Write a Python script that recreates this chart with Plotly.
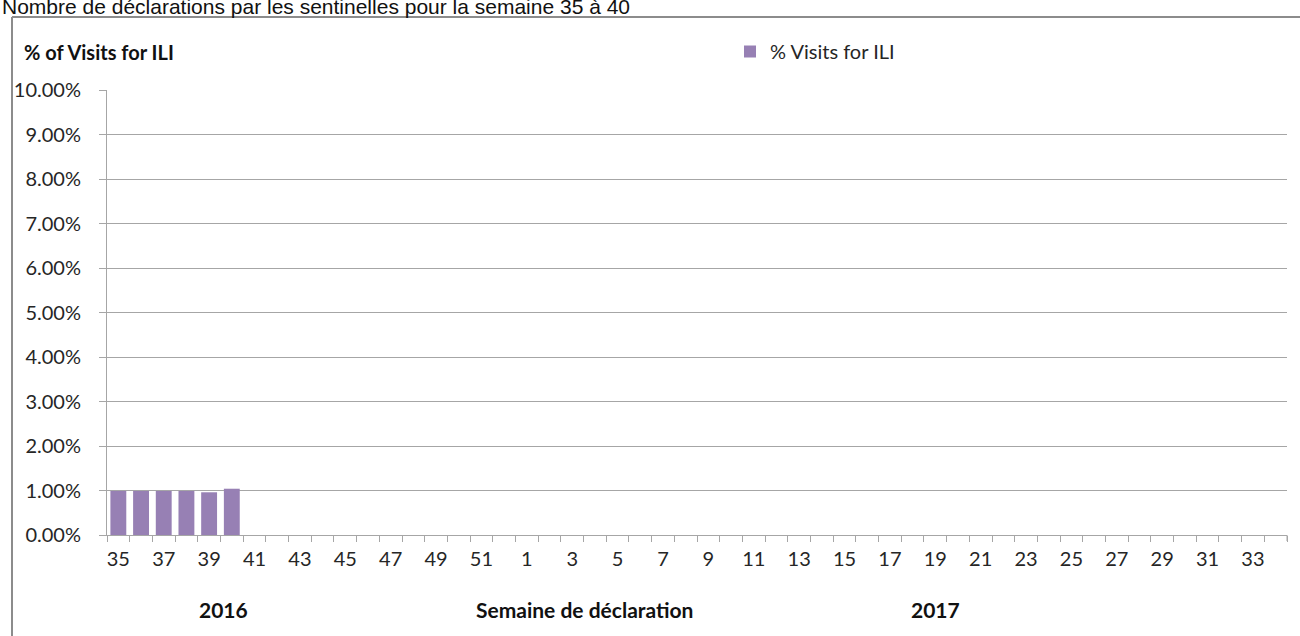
import plotly.graph_objects as go

weeks_2016 = [str(w) for w in range(35, 53)]
weeks_2017 = [str(w) for w in range(1, 35)]
categories = weeks_2016 + weeks_2017
ili_values = [0.0099, 0.0099, 0.0099, 0.0099, 0.0096, 0.0104]
series_name = "% Visits for ILI"
tick_labels = [c if i % 2 == 0 else "" for i, c in enumerate(categories)]
y_ticks = [i / 100 for i in range(0, 11)]

W, H = 1300, 636
L, R, T, B = 107, 13, 90, 101
pw, ph = W - L - R, H - T - B

def px_x(p):
    return (p - L) / pw

def px_y(p):
    return (H - B - p) / ph

bar_color = "#9780B4"
grid_color = "#A6A6A6"
text_color = "#262626"
font_fam = "Lato, 'Open Sans', sans-serif"

fig = go.Figure()
fig.add_trace(go.Bar(
    x=categories[:len(ili_values)],
    y=ili_values,
    name=series_name,
    marker=dict(color=bar_color, line=dict(width=0)),
    showlegend=True,
))

fig.update_layout(
    width=W, height=H,
    margin=dict(l=L, r=R, t=T, b=B, autoexpand=False),
    plot_bgcolor="white",
    paper_bgcolor="white",
    bargap=0.3,
    font=dict(family=font_fam, size=20, color=text_color),
    showlegend=True,
    legend=dict(
        x=px_x(730), y=px_y(32), xanchor="left", yanchor="top",
        font=dict(family=font_fam, size=20, color=text_color),
        bgcolor="rgba(0,0,0,0)",
    ),
    xaxis=dict(
        type="category",
        categoryorder="array",
        categoryarray=categories,
        range=[-0.5, len(categories) - 0.5],
        tickmode="array",
        tickvals=categories,
        ticktext=tick_labels,
        tickson="boundaries",
        tickangle=0,
        ticks="outside",
        ticklen=6,
        tickcolor=grid_color,
        showgrid=False,
        showline=True,
        linecolor=grid_color,
        linewidth=1,
        automargin=False,
        tickfont=dict(family=font_fam, size=20, color=text_color),
        ticklabelstandoff=6,
    ),
    yaxis=dict(
        range=[0, 0.10],
        tickmode="array",
        tickvals=y_ticks,
        tickformat=".2%",
        ticks="outside",
        ticklen=7,
        tickcolor=grid_color,
        showgrid=True,
        gridcolor=grid_color,
        gridwidth=1,
        showline=True,
        linecolor=grid_color,
        linewidth=1,
        zeroline=False,
        automargin=False,
        ticklabelstandoff=14,
        tickfont=dict(family=font_fam, size=20, color=text_color),
    ),
)

# final boundary tick at right end of category axis
fig.add_shape(type="line", xref="x domain", yref="paper",
              x0=1, x1=1, y0=0, y1=-6 / ph,
              line=dict(color=grid_color, width=1))

# outer chart frame (left and top edges)
fig.add_shape(type="line", xref="paper", yref="paper",
              x0=px_x(12), x1=px_x(12), y0=px_y(17), y1=px_y(640),
              line=dict(color="#8C8C8C", width=2))
fig.add_shape(type="line", xref="paper", yref="paper",
              x0=px_x(12), x1=px_x(1302), y0=px_y(17), y1=px_y(17),
              line=dict(color="#8C8C8C", width=2))

# page title (partly cut by the top edge, as in the source image)
fig.add_annotation(text="Nombre de déclarations par les sentinelles pour la semaine 35 à 40",
                   xref="paper", yref="paper", x=px_x(0), y=px_y(7),
                   xanchor="left", yanchor="middle", showarrow=False,
                   font=dict(family="'Liberation Sans', Arial, sans-serif", size=21, color="#111111"))

# y axis title
fig.add_annotation(text="<b>% of Visits for ILI</b>", xref="paper", yref="paper",
                   x=px_x(22), y=px_y(52), xanchor="left", yanchor="middle",
                   showarrow=False, font=dict(family=font_fam, size=20, color="#111111"))

# bottom labels
fig.add_annotation(text="<b>2016</b>", xref="paper", yref="paper",
                   x=px_x(223), y=px_y(609), xanchor="center", yanchor="middle",
                   showarrow=False, font=dict(family=font_fam, size=21, color="#111111"))
fig.add_annotation(text="<b>Semaine de déclaration</b>", xref="paper", yref="paper",
                   x=px_x(584), y=px_y(609), xanchor="center", yanchor="middle",
                   showarrow=False, font=dict(family=font_fam, size=21, color="#111111"))
fig.add_annotation(text="<b>2017</b>", xref="paper", yref="paper",
                   x=px_x(935), y=px_y(609), xanchor="center", yanchor="middle",
                   showarrow=False, font=dict(family=font_fam, size=21, color="#111111"))

fig.write_html("out.html", config={"displayModeBar": False},
               post_script="document.body.style.margin='0';document.body.style.overflow='hidden';")
